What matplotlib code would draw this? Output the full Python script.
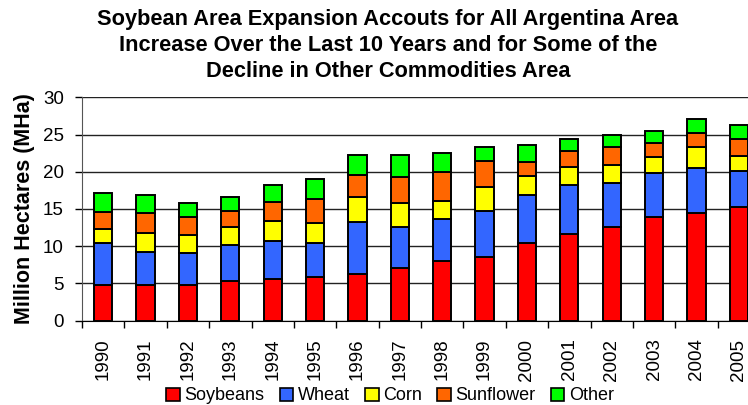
import numpy as np
import matplotlib.pyplot as plt
from matplotlib.patches import Patch
from matplotlib.ticker import MultipleLocator

plt.rcParams['font.family'] = ['Liberation Sans', 'DejaVu Sans']

### DATA ######################################################################
years = [str(y) for y in range(1990, 2006)]
soybeans  = [4.8, 4.8, 4.8, 5.3, 5.6, 5.9, 6.2, 7.0, 8.0, 8.6, 10.4, 11.6, 12.6, 13.95, 14.5, 15.3]
wheat     = [5.6, 4.45, 4.25, 4.85, 5.05, 4.55, 7.1, 5.6, 5.65, 6.1, 6.5, 6.6, 5.85, 5.85, 6.05, 4.8]
corn      = [1.85, 2.45, 2.45, 2.45, 2.7, 2.6, 3.3, 3.15, 2.4, 3.2, 2.5, 2.45, 2.4, 2.15, 2.75, 2.05]
sunflower = [2.35, 2.7, 2.4, 2.1, 2.6, 3.25, 2.9, 3.5, 3.95, 3.55, 1.95, 2.1, 2.45, 1.9, 1.9, 2.2]
other     = [2.5, 2.45, 1.9, 1.85, 2.3, 2.7, 2.8, 3.0, 2.45, 1.85, 2.25, 1.7, 1.65, 1.6, 1.9, 1.95]

series = [("Soybeans", soybeans, "#FF0000"),
          ("Wheat", wheat, "#3366FF"),
          ("Corn", corn, "#FFFF00"),
          ("Sunflower", sunflower, "#FF6600"),
          ("Other", other, "#00FF00")]

title = ("Soybean Area Expansion Accouts for All Argentina Area\n"
         "Increase Over the Last 10 Years and for Some of the\n"
         "Decline in Other Commodities Area")

### PLOT ######################################################################
W, H = 748, 405
fig = plt.figure(figsize=(W/100, H/100), dpi=100)
# plot area runs past the right edge like in the original
ax = fig.add_axes([82/W, (H-320.5)/H, 678/W, 223.2/H])

x = np.arange(len(years))
bottom = np.zeros(len(years))
for name, vals, col in series:
    ax.bar(x, vals, width=0.43, bottom=bottom, color=col,
           edgecolor="black", linewidth=1.4, zorder=3)
    bottom += np.array(vals)

ax.set_xlim(-0.5, len(years)-0.5)
ax.set_ylim(0, 30)
ax.yaxis.set_major_locator(MultipleLocator(5))
ax.grid(axis="y", color="#222222", linewidth=1.0, zorder=0)

ax.set_xticks(x)
ax.set_xticklabels(years, rotation=90, fontsize=13.5)
ax.set_xticks(np.arange(len(years)+1)-0.5, minor=True)
ax.tick_params(axis="x", which="major", length=0, pad=13)
ax.tick_params(axis="x", which="minor", length=5, width=1, direction="out")
ax.tick_params(axis="y", labelsize=13.5, length=5, width=1, direction="out", pad=8)

for s in ["top", "right"]:
    ax.spines[s].set_visible(False)
ax.spines["left"].set_color("#555555")
ax.spines["bottom"].set_color("black")

ax.set_ylabel("Million Hectares (MHa)", fontsize=15.5, fontweight="bold", labelpad=6)
fig.text(388/W, 1 - 9/H, title, ha="center", va="top", fontsize=15.7,
         fontweight="bold", linespacing=1.32)

handles = [Patch(facecolor=c, edgecolor="black", linewidth=1.2) for _, _, c in series]
fig.legend(handles, [n for n, _, _ in series], loc="center",
           bbox_to_anchor=(390/W, (H-396)/H), ncol=5, frameon=False,
           fontsize=13, handlelength=0.75, handleheight=0.75,
           handletextpad=0.25, columnspacing=0.85, borderaxespad=0)

fig.savefig("out.png", dpi=100)
